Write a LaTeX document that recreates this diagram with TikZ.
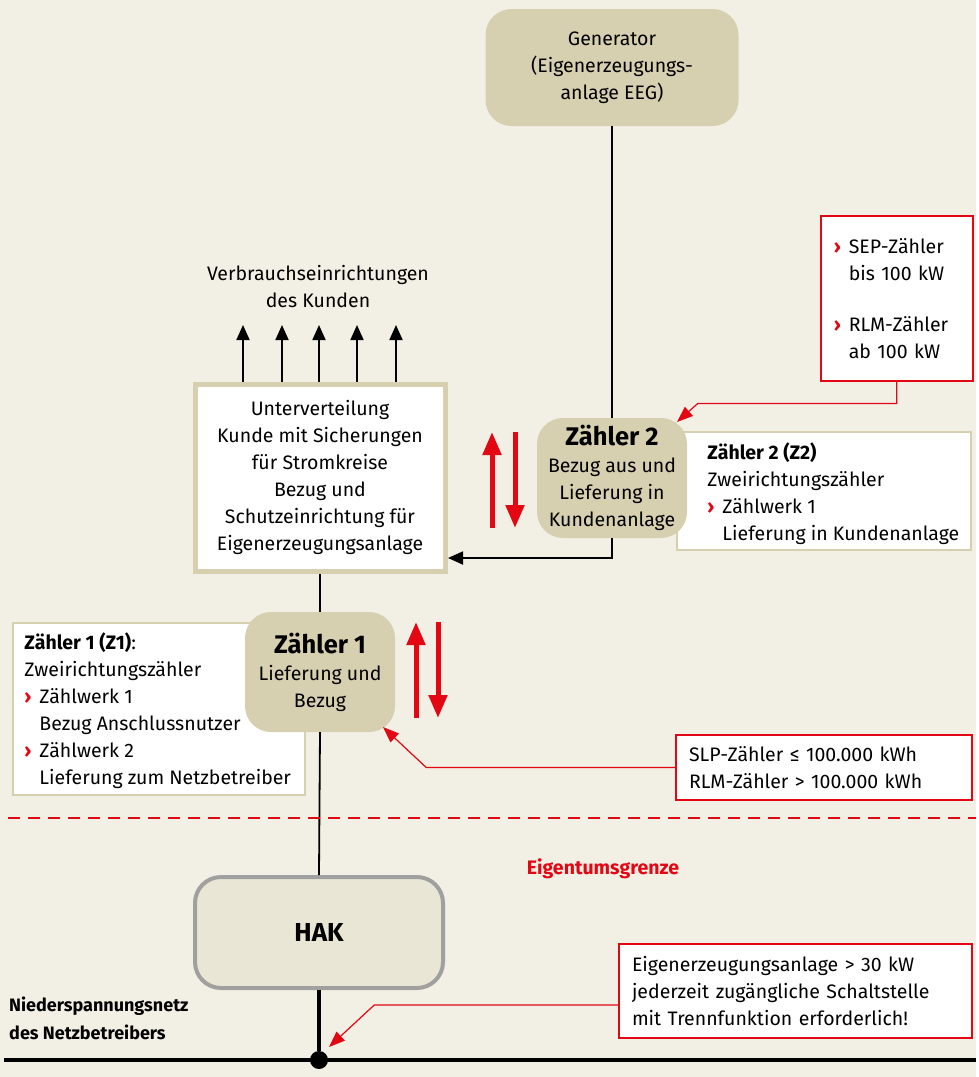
\documentclass[tikz,border=0pt]{standalone}
\usepackage{fontspec}
\setmainfont{Fira Sans}
\usepackage{xcolor}
\usepackage{tikz}
\usetikzlibrary{arrows.meta}
\definecolor{bgcream}{RGB}{242,239,228}
\definecolor{khaki}{RGB}{214,208,176}
\definecolor{ekred}{RGB}{227,6,19}
\definecolor{hakfill}{RGB}{233,230,214}
\definecolor{hakgrey}{RGB}{160,160,160}
\providecommand{\zchev}{\makebox[15pt][l]{\textcolor{ekred}{\bfseries ›}}}
\providecommand{\zind}{\hspace*{15pt}}
\providecommand{\zhead}[1]{{\fontsize{25.5}{27}\selectfont\bfseries #1}}

\begin{document}
\begin{tikzpicture}[x=1pt,y=-1pt,
  txt/.style={font=\fontsize{19.5}{27}\selectfont, text=black},
  roundbox/.style={txt, fill=khaki, rounded corners=26pt, inner sep=0pt, align=center},
  infobox/.style={fill=white, draw=khaki, line width=1.5pt, inner sep=0pt},
  infotext/.style={txt, align=left, anchor=west, inner sep=0pt},
  notebox/.style={txt, fill=white, draw=ekred, line width=1.5pt, inner ysep=0pt, inner xsep=13pt, align=left},
  wire/.style={line width=1.8pt, black},
  wirearrow/.style={wire, -{Triangle[length=15pt,width=13pt]}},
  flow/.style={ekred, line width=5pt, -{Triangle[length=23pt,width=18pt]}},
  notearrow/.style={ekred, line width=1.2pt, -{Triangle[length=16pt,width=12pt]}}]
\fill[bgcream] (0,0) rectangle (976,1077);
% Drawing boxes
\node[roundbox, minimum width=253, minimum height=117] (gen) at (612,67.5) {Generator\\(Eigenerzeugungs-\\anlage EEG)};
\node[infobox, minimum width=294, minimum height=118] (z2info) at (824,491) {};
\node[infotext] (z2infotext) at ([xshift=31,yshift=-3]z2info.west)
  {\textbf{Zähler 2 (Z2)}\\Zweirichtungszähler\\\zchev Zählwerk 1\\\zind Lieferung in Kundenanlage};
\node[roundbox, minimum width=150, minimum height=120] (z2) at (612,478) {\zhead{Zähler 2}\\Bezug aus und\\Lieferung in\\Kundenanlage};
\node[txt, fill=white, draw=khaki, line width=5pt, minimum width=250, minimum height=187, align=center, inner sep=0pt] (uv) at (320,477.5)
  {Unterverteilung\\Kunde mit Sicherungen\\für Stromkreise\\Bezug und\\Schutzeinrichtung für\\Eigenerzeugungsanlage};
\node[txt, align=center] (verb) at (318,287) {Verbrauchseinrichtungen\\des Kunden};
\node[infobox, minimum width=292, minimum height=172] (z1info) at (159,709) {};
\node[infotext] (z1infotext) at ([xshift=12,yshift=-2]z1info.west)
  {\textbf{Zähler 1 (Z1)}:\\Zweirichtungszähler\\\zchev Zählwerk 1\\\zind Bezug Anschlussnutzer\\\zchev Zählwerk 2\\\zind Lieferung zum Netzbetreiber};
\node[roundbox, minimum width=150, minimum height=120] (z1) at (320,672) {\zhead{Zähler 1}\\Lieferung und\\Bezug};
\node[roundbox, fill=hakfill, draw=hakgrey, line width=4pt, minimum width=248, minimum height=111, font=\fontsize{26}{27}\selectfont\bfseries] (hak) at (319,932.5) {HAK};
% Notes
\node[notebox, minimum width=152, minimum height=165, text width=126, anchor=north west, inner xsep=9pt] (sep) at (820,215)
  {\zchev SEP-Zähler\\\zind bis 100 kW\\[24pt]\zchev RLM-Zähler\\\zind ab 100 kW};
\node[notebox, minimum width=296, minimum height=65, text width=270] (slp) at (824,767.5)
  {SLP-Zähler ≤ 100.000 kWh\\RLM-Zähler > 100.000 kWh};
\node[notebox, minimum width=353, minimum height=94, text width=327] (trenn) at (795.5,991)
  {Eigenerzeugungsanlage > 30 kW\\jederzeit zugängliche Schaltstelle\\mit Trennfunktion erforderlich!};
\node[txt, text=ekred, font=\fontsize{19.5}{27}\selectfont\bfseries] (grenze) at (603,869) {Eigentumsgrenze};
\node[txt, font=\fontsize{18}{28}\selectfont\bfseries, align=left, anchor=west, inner sep=0pt] (netz) at (9,1018) {Niederspannungsnetz\\des Netzbetreibers};
\node[circle, fill=black, minimum size=18pt, inner sep=0pt] (busdot) at (319,1060) {};
% Drawing wires
\coordinate (uvin) at (448,558);
\coordinate (verbtip) at (320,325);
\coordinate (busL) at (4,1060);
\coordinate (busR) at (976,1060);
\draw[wire] (gen.south) -- (z2.north);
\draw[wirearrow] (z2.south) |- (uvin);
\foreach \dx in {-77,-38,-1,37,76}
  \draw[wirearrow] ([xshift=\dx]uv.north) -- ([xshift=\dx]verbtip);
\draw[wire] (uv.south) -- (z1.north);
\draw[wire] (z1.south) -- (hak.north);
\draw[line width=3.5pt] (hak.south) -- (busdot);
\draw[line width=4pt] (busL) -- (busR);
\draw[ekred, line width=2pt, dash pattern=on 12pt off 8pt] (8,818) -- (976,818);
% Flow arrows
\coordinate (f2) at (503.5,480);
\coordinate (f1) at (427,670);
\draw[flow] ([xshift=-11.5, yshift=-48]f2) -- ([xshift=-11.5, yshift=48]f2);
\draw[flow] ([xshift=11.5, yshift=48]f2) -- ([xshift=11.5, yshift=-48]f2);
\draw[flow] ([xshift=-11, yshift=-48]f1) -- ([xshift=-11, yshift=48]f1);
\draw[flow] ([xshift=11, yshift=48]f1) -- ([xshift=11, yshift=-48]f1);
% Note pointers
\coordinate (z2tip) at (677,422);
\coordinate (z1tip) at (383,727);
\coordinate (bustip) at (329,1047);
\draw[notearrow] (sep.south) -- ++(0,22) -- ++(-199,0) -- (z2tip);
\draw[notearrow] (slp.west) -- ++(-249,0) -- (z1tip);
\draw[notearrow] ([yshift=-14]trenn.west) -- ++(-244,0) -- (bustip);
% Done
\end{tikzpicture}
\end{document}
